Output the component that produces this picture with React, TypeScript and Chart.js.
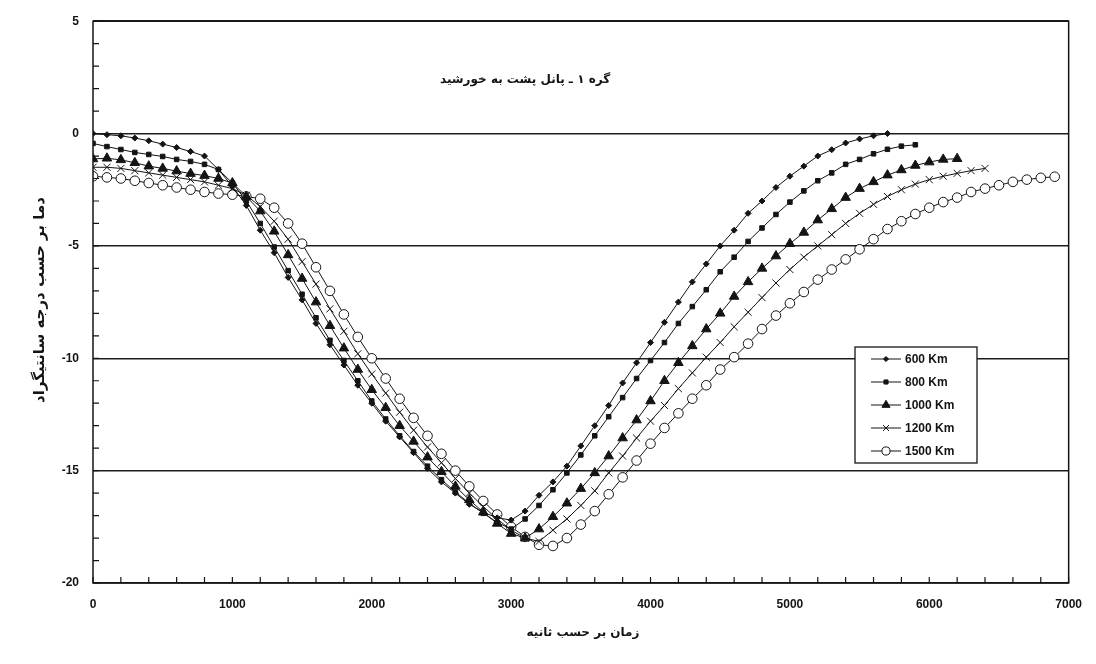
import React, { useEffect, useRef } from "react";
import { Chart, registerables } from "chart.js";

Chart.register(...registerables);

// ---------- data ----------
const TIMES = [
  0, 100, 200, 300, 400, 500, 600, 700, 800, 900,
  1000, 1100, 1200, 1300, 1400, 1500, 1600, 1700, 1800, 1900,
  2000, 2100, 2200, 2300, 2400, 2500, 2600, 2700, 2800, 2900,
  3000, 3100, 3200, 3300, 3400, 3500, 3600, 3700, 3800, 3900,
  4000, 4100, 4200, 4300, 4400, 4500, 4600, 4700, 4800, 4900,
  5000, 5100, 5200, 5300, 5400, 5500, 5600, 5700, 5800, 5900,
  6000, 6100, 6200, 6300, 6400, 6500, 6600, 6700, 6800, 6900,
];

const T600 = [
  0, -0.05, -0.1, -0.2, -0.32, -0.47, -0.62, -0.8, -1.0, -1.6,
  -2.35, -3.2, -4.3, -5.3, -6.4, -7.4, -8.45, -9.4, -10.3, -11.2,
  -12.0, -12.8, -13.5, -14.2, -14.9, -15.5, -16.0, -16.5, -16.85, -17.1,
  -17.2, -16.8, -16.1, -15.5, -14.8, -13.9, -13.0, -12.1, -11.1, -10.2,
  -9.3, -8.4, -7.5, -6.6, -5.8, -5.0, -4.3, -3.55, -3.0, -2.4,
  -1.9, -1.45, -1.0, -0.72, -0.42, -0.24, -0.1, 0.0,
];

const T800 = [
  -0.44, -0.58, -0.71, -0.84, -0.93, -1.02, -1.15, -1.24, -1.37, -1.6,
  -2.2, -3.0, -4.0, -5.05, -6.1, -7.15, -8.2, -9.2, -10.1, -11.0,
  -11.9, -12.7, -13.45, -14.15, -14.8, -15.4, -15.95, -16.45, -16.9, -17.3,
  -17.6, -17.15, -16.55, -15.85, -15.1, -14.3, -13.45, -12.6, -11.75, -10.9,
  -10.1, -9.3, -8.45, -7.7, -6.95, -6.15, -5.5, -4.8, -4.2, -3.6,
  -3.05, -2.55, -2.1, -1.75, -1.37, -1.15, -0.9, -0.7, -0.56, -0.5,
];

const T1000 = [
  -1.13, -1.1, -1.17, -1.3, -1.45, -1.55, -1.67, -1.78, -1.87, -2.0,
  -2.2, -2.8, -3.45, -4.35, -5.4, -6.45, -7.5, -8.55, -9.55, -10.5,
  -11.4, -12.2, -13.0, -13.7, -14.4, -15.05, -15.7, -16.3, -16.85, -17.35,
  -17.8, -18.0, -17.6, -17.05, -16.45, -15.8, -15.1, -14.35, -13.55, -12.75,
  -11.9, -11.0, -10.2, -9.45, -8.7, -8.0, -7.25, -6.6, -6.0, -5.45,
  -4.9, -4.4, -3.85, -3.35, -2.85, -2.45, -2.15, -1.85, -1.62, -1.42,
  -1.27, -1.15, -1.12,
];

const T1200 = [
  -1.5, -1.5, -1.55, -1.65, -1.75, -1.85, -1.95, -2.05, -2.15, -2.3,
  -2.45, -2.75, -3.25, -3.9, -4.7, -5.7, -6.7, -7.8, -8.8, -9.8,
  -10.7, -11.55, -12.4, -13.2, -13.95, -14.65, -15.35, -16.0, -16.6, -17.15,
  -17.65, -18.0, -18.15, -17.65, -17.15, -16.55, -15.9, -15.1, -14.35, -13.55,
  -12.8, -12.1, -11.35, -10.65, -9.95, -9.3, -8.6, -7.95, -7.3, -6.65,
  -6.05, -5.5, -5.0, -4.5, -4.0, -3.55, -3.15, -2.8, -2.5, -2.25,
  -2.05, -1.9, -1.77, -1.65, -1.55,
];

const T1500 = [
  -1.9, -1.95, -2.0, -2.1, -2.2, -2.3, -2.4, -2.5, -2.6, -2.67,
  -2.72, -2.8, -2.9, -3.3, -4.0, -4.9, -5.95, -7.0, -8.05, -9.05,
  -10.0, -10.9, -11.8, -12.65, -13.45, -14.25, -15.0, -15.7, -16.35, -16.95,
  -17.5, -17.95, -18.3, -18.35, -18.0, -17.4, -16.8, -16.05, -15.3, -14.55,
  -13.8, -13.1, -12.45, -11.8, -11.2, -10.5, -9.95, -9.35, -8.7, -8.1,
  -7.55, -7.05, -6.5, -6.05, -5.6, -5.15, -4.7, -4.25, -3.9, -3.58,
  -3.3, -3.05, -2.85, -2.6, -2.45, -2.3, -2.15, -2.05, -1.97, -1.92,
];

const SERIES_LABELS = ["600 Km", "800 Km", "1000 Km", "1200 Km", "1500 Km"];
const SERIES_VALUES = [T600, T800, T1000, T1200, T1500];

const X_TICKS = [0, 1000, 2000, 3000, 4000, 5000, 6000, 7000];
const Y_TICKS = [5, 0, -5, -10, -15, -20];

const TITLE = "گره ۱ ـ پانل پشت به خورشید";
const X_TITLE = "زمان بر حسب ثانیه";
const Y_TITLE = "دما بر حسب درجه سانتیگراد";

// ---------- styles ----------
const INK = "#141414";
const MARKERS = ["rectRot", "rect", "triangle", "crossRot", "circle"];
const RADII = [3, 3.2, 5.5, 5, 4.8];
const FILLS = [INK, INK, INK, INK, "#ffffff"];
const LATIN = '"Liberation Sans", Arial, sans-serif';
const PERSIAN = '"DejaVu Sans", sans-serif';

function drawMarker(ctx: CanvasRenderingContext2D, style: string, x: number, y: number, r: number, fill: string) {
  ctx.save();
  ctx.strokeStyle = INK;
  ctx.fillStyle = fill;
  ctx.lineWidth = 1;
  ctx.beginPath();
  if (style === "rectRot") {
    ctx.moveTo(x, y - r); ctx.lineTo(x + r, y); ctx.lineTo(x, y + r); ctx.lineTo(x - r, y); ctx.closePath();
    ctx.fill(); ctx.stroke();
  } else if (style === "rect") {
    const s = r * 0.75;
    ctx.rect(x - s, y - s, 2 * s, 2 * s); ctx.fill(); ctx.stroke();
  } else if (style === "triangle") {
    ctx.moveTo(x, y - r); ctx.lineTo(x + r * 0.87, y + r * 0.5); ctx.lineTo(x - r * 0.87, y + r * 0.5); ctx.closePath();
    ctx.fill(); ctx.stroke();
  } else if (style === "crossRot") {
    const s = r * 0.7;
    ctx.moveTo(x - s, y - s); ctx.lineTo(x + s, y + s); ctx.moveTo(x + s, y - s); ctx.lineTo(x - s, y + s); ctx.stroke();
  } else {
    ctx.arc(x, y, r, 0, Math.PI * 2); ctx.fill(); ctx.stroke();
  }
  ctx.restore();
}

const decorPlugin = {
  id: "decor",
  afterDraw(chart: any) {
    const { ctx, chartArea: a, scales } = chart;
    const xs = scales.x, ys = scales.y;
    ctx.save();
    // frame
    ctx.strokeStyle = INK;
    ctx.lineWidth = 1.5;
    ctx.strokeRect(a.left, a.top, a.right - a.left, a.bottom - a.top);
    // minor ticks
    ctx.lineWidth = 1.2;
    ctx.beginPath();
    for (let v = -20; v <= 5; v += 1) {
      const py = ys.getPixelForValue(v);
      ctx.moveTo(a.left, py); ctx.lineTo(a.left + 6, py);
    }
    for (let t = 0; t <= 7000; t += 200) {
      const px = xs.getPixelForValue(t);
      ctx.moveTo(px, a.bottom); ctx.lineTo(px, a.bottom - 6);
    }
    ctx.stroke();

    // title inside plot
    ctx.fillStyle = INK;
    ctx.font = `bold 12px ${PERSIAN}`;
    ctx.textAlign = "center";
    ctx.textBaseline = "middle";
    ctx.direction = "rtl";
    ctx.fillText(TITLE, xs.getPixelForValue(3100), ys.getPixelForValue(2.4));

    // axis titles
    ctx.font = `bold 12px ${PERSIAN}`;
    ctx.fillText(X_TITLE, 583, 633);
    ctx.save();
    ctx.translate(40, 300);
    ctx.rotate(-Math.PI / 2);
    ctx.font = `bold 15px ${PERSIAN}`;
    ctx.fillText(Y_TITLE, 0, 0);
    ctx.restore();
    ctx.direction = "ltr";

    // legend
    const bx = 855, by = 347, bw = 122, bh = 116;
    ctx.fillStyle = "#ffffff";
    ctx.fillRect(bx, by, bw, bh);
    ctx.strokeStyle = INK;
    ctx.lineWidth = 1.3;
    ctx.strokeRect(bx, by, bw, bh);
    ctx.font = `bold 12px ${LATIN}`;
    ctx.textAlign = "left";
    ctx.textBaseline = "middle";
    SERIES_LABELS.forEach((lab, i) => {
      const ly = by + 12 + i * 23;
      ctx.strokeStyle = INK;
      ctx.lineWidth = 1;
      ctx.beginPath();
      ctx.moveTo(bx + 16, ly); ctx.lineTo(bx + 46, ly); ctx.stroke();
      drawMarker(ctx, MARKERS[i], bx + 31, ly, RADII[i] * 0.85, FILLS[i]);
      ctx.fillStyle = INK;
      ctx.fillText(lab, bx + 50, ly + 1);
    });
    ctx.restore();
  },
};

export default function App() {
  const ref = useRef<HTMLCanvasElement | null>(null);

  useEffect(() => {
    document.body.style.margin = "0";
    document.body.style.overflow = "hidden";
    const canvas = ref.current;
    if (!canvas) return;

    const datasets = SERIES_VALUES.map((vals, i) => ({
      label: SERIES_LABELS[i],
      data: vals.map((v, k) => ({ x: TIMES[k], y: v })),
      borderColor: INK,
      borderWidth: 1,
      backgroundColor: FILLS[i],
      pointStyle: MARKERS[i] as any,
      pointRadius: RADII[i],
      pointBackgroundColor: FILLS[i],
      pointBorderColor: INK,
      pointBorderWidth: 1,
      tension: 0,
      fill: false,
    }));

    const chart = new Chart(canvas, {
      type: "line",
      data: { datasets },
      options: {
        responsive: false,
        animation: false,
        devicePixelRatio: 1,
        layout: { padding: { left: 0, right: 19, top: 17, bottom: 0 } },
        plugins: {
          legend: { display: false },
          tooltip: { enabled: false },
          title: { display: false },
        },
        scales: {
          x: {
            type: "linear",
            min: 0,
            max: 7000,
            afterBuildTicks: (s: any) => {
              s.ticks = X_TICKS.map((v) => ({ value: v }));
            },
            afterFit: (s: any) => {
              s.height = 81;
            },
            ticks: {
              autoSkip: false,
              maxRotation: 0,
              padding: 14,
              color: INK,
              font: { family: LATIN, size: 12, weight: "bold" },
              callback: (v: any) => String(v),
            },
            grid: { display: false, drawTicks: false },
            border: { display: false },
          },
          y: {
            type: "linear",
            min: -20,
            max: 5,
            afterBuildTicks: (s: any) => {
              s.ticks = Y_TICKS.map((v) => ({ value: v }));
            },
            afterFit: (s: any) => {
              s.width = 93;
            },
            ticks: {
              autoSkip: false,
              padding: 14,
              color: INK,
              font: { family: LATIN, size: 12, weight: "bold" },
              callback: (v: any) => String(v),
            },
            grid: { color: "#1e1e1e", lineWidth: 1.5, drawTicks: false },
            border: { display: false },
          },
        },
      },
      plugins: [decorPlugin],
    });

    return () => chart.destroy();
  }, []);

  return (
    <div style={{ width: 1096, height: 664 }}>
      <canvas ref={ref} width={1096} height={664} style={{ display: "block" }} />
    </div>
  );
}
